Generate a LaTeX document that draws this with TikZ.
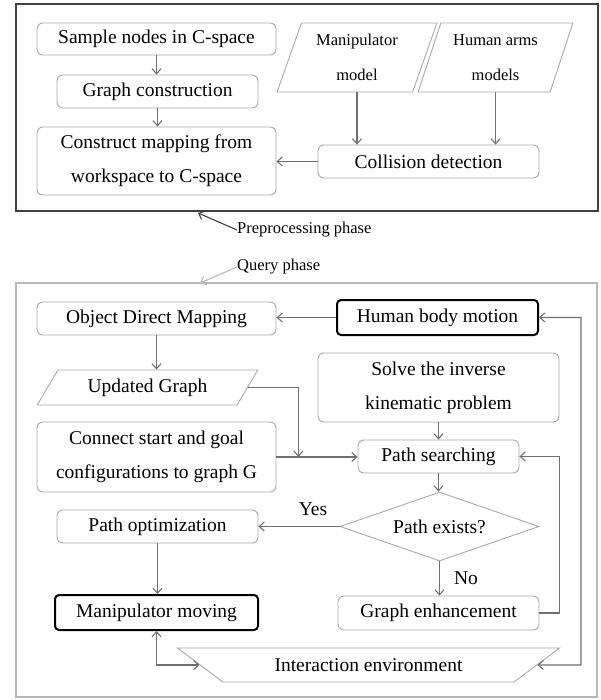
\documentclass[tikz,border=0pt]{standalone}
\usepackage{fontspec}
\setmainfont{Liberation Serif}
\usetikzlibrary{arrows.meta,shapes.geometric,calc}
\definecolor{boxgray}{HTML}{A8A8A8}
\definecolor{arrgray}{HTML}{707070}
\definecolor{frameDark}{HTML}{404040}
\definecolor{frameLight}{HTML}{B8B8B8}
\begin{document}
\begin{tikzpicture}[x=1pt,y=-1pt,
  every node/.style={font=\fontsize{19.5}{34}\selectfont, text=black, inner sep=0pt, align=center},
  pbox/.style={draw=boxgray, line width=0.9pt, rounded corners=6pt, minimum width=#1},
  tbox/.style={draw=black, line width=2pt, rounded corners=4pt, minimum width=#1},
  para/.style={trapezium, trapezium stretches=true, draw=boxgray, line width=0.9pt,
     trapezium left angle=#1, trapezium right angle={180-#1}},
  arr/.style={draw=arrgray, line width=1.1pt, -{Straight Barb[length=5pt,width=9pt]}},
  arrb/.style={draw=arrgray, line width=1.1pt, {Straight Barb[length=5pt,width=9pt]}-{Straight Barb[length=5pt,width=9pt]}},
  lbl/.style={font=\fontsize{16.5}{20}\selectfont},
]
\useasboundingbox (0,0) rectangle (600,700);
% frames
\draw[draw=frameDark, line width=1.2pt] (16,4) rectangle (598,211);
\draw[draw=frameLight, line width=1.2pt] (16,283) rectangle (597,697);

% preprocessing nodes
\node[pbox=239pt, minimum height=32pt] (sample) at (156.5,39) {Sample nodes in C-space};
\node[pbox=201pt, minimum height=33pt] (graph) at (157.5,91.5) {Graph construction};
\node[pbox=239pt, minimum height=68pt] (construct) at (156.5,161) {Construct mapping from\\workspace to C-space};
\node[para=69, minimum width=160pt, minimum height=69pt, font=\fontsize{16.5}{35}\selectfont] (manip) at (357,57.5) {Manipulator\\model};
\node[para=69, minimum width=155pt, minimum height=69pt, font=\fontsize{16.5}{35}\selectfont] (arms) at (495.5,57.5) {Human arms\\models};
\node[pbox=221pt, minimum height=33pt] (collision) at (428.5,161.5) {Collision detection};

\draw[arr] (sample.south) -- (sample.south |- graph.north);
\draw[arr] (graph.south) -- (graph.south |- construct.north);
\draw[arr] (manip.south) -- (manip.south |- collision.north);
\draw[arr] (arms.south) -- (arms.south |- collision.north);
\draw[arr] (collision.west) -- (collision.west -| construct.east);

% phase labels
\node[lbl, anchor=west] (pre) at (237,230) {Preprocessing phase};
\coordinate (pretip) at (198,213);
\draw[draw=frameDark, line width=1.1pt, -{Straight Barb[length=5pt,width=9pt]}] (pre.west) -- (pretip);
\node[lbl, anchor=west] (query) at (237,267) {Query phase};
\coordinate (querytip) at (200,283);
\draw[draw=frameLight, line width=1.1pt, -{Straight Barb[length=5pt,width=9pt]}] (query.west) -- (querytip);

% query nodes
\node[pbox=239pt, minimum height=33pt] (odm) at (156.5,318.5) {Object Direct Mapping};
\node[tbox=201pt, minimum height=35pt] (hbm) at (437.5,317.5) {Human body motion};
\node[para=52, minimum width=221pt, minimum height=35pt] (ug) at (147.5,387.5) {Updated Graph};
\node[pbox=241pt, minimum height=69pt] (solve) at (438.5,387.5) {Solve the inverse\\kinematic problem};
\node[pbox=239pt, minimum height=70pt] (connect) at (156.5,457) {Connect start and goal\\configurations to graph G};
\node[pbox=161pt, minimum height=33pt] (ps) at (438.5,456.5) {Path searching};
\node[diamond, draw=boxgray, line width=0.9pt, aspect=2.9, minimum width=199pt, minimum height=69pt] (pe) at (439.5,526.5) {Path exists?};
\node[pbox=201pt, minimum height=33pt] (po) at (157.5,526.5) {Path optimization};
\node[pbox=201pt, minimum height=34pt] (ge) at (438.5,613) {Graph enhancement};
\node[tbox=203pt, minimum height=35pt] (mm) at (156.5,612.5) {Manipulator moving};
\node[trapezium, trapezium stretches=true, shape border rotate=180, trapezium angle=24,
      draw=boxgray, line width=0.9pt, minimum width=383pt, minimum height=34pt] (ie) at (368.5,665) {Interaction environment};
\node (yes) at (313,509) {Yes};
\node (no) at (466,578) {No};

\coordinate (jn) at ($(connect.east)!0.27!(ps.west)$);
\coordinate (rc) at (581,665);

\draw[arr] (hbm.west) -- (hbm.west -| odm.east);
\draw[arr] (odm.south) -- (odm.south |- ug.north);
\draw[arr] (ug.east) -| (jn);
\draw[arr] (connect.east) -- (connect.east -| ps.west);
\draw[arr] (solve.south) -- (solve.south |- ps.north);
\draw[arr] (ps.south) -- (ps.south |- pe.north);
\draw[arr] (pe.west) -- (pe.west -| po.east);
\draw[arr] (pe.south) -- (pe.south |- ge.north);
\draw[arr] (ge.east) -- ++(20,0) |- (ps.east);
\draw[arr] (po.south) -- (po.south |- mm.north);
\draw[arrb] (mm.south) |- (ie.west);
\draw[arrb] (hbm.east) -| (rc) -- (ie.east);
\end{tikzpicture}
\end{document}
